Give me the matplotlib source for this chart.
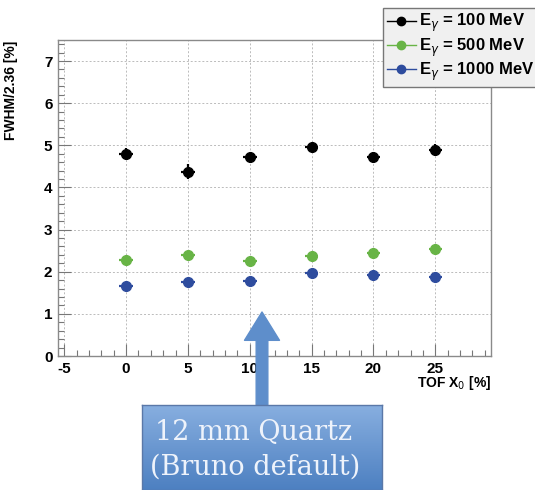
import numpy as np
import matplotlib
matplotlib.use("Agg")
import matplotlib.pyplot as plt
from matplotlib.ticker import MultipleLocator
from matplotlib.lines import Line2D

plt.rcParams['font.family'] = ['Liberation Sans', 'DejaVu Sans']
plt.rcParams['axes.unicode_minus'] = False

# TOF thickness scan
tof_x0 = [0, 5, 10, 15, 20, 25]

res_100 = [4.80, 4.37, 4.72, 4.96, 4.72, 4.88]
res_500 = [2.27, 2.39, 2.26, 2.38, 2.44, 2.54]
res_1000 = [1.65, 1.75, 1.77, 1.97, 1.93, 1.88]

err_100 = [0.14, 0.18, 0.09, 0.09, 0.11, 0.14]
err_500 = [0.05, 0.05, 0.05, 0.05, 0.05, 0.05]
err_1000 = [0.05, 0.05, 0.05, 0.05, 0.05, 0.05]

labels = [r"E$_{\gamma}$ = 100 MeV", r"E$_{\gamma}$ = 500 MeV", r"E$_{\gamma}$ = 1000 MeV"]
colors = ["#000000", "#68b446", "#2e4c9e"]

W, H = 535, 490
fig = plt.figure(figsize=(W/100, H/100), dpi=100)
ax = fig.add_axes([58/W, 1 - 356/H, (491-58)/W, (356-40)/H])

for y, e, c in zip([res_100, res_500, res_1000], [err_100, err_500, err_1000], colors):
    ax.errorbar(tof_x0, y, yerr=e, xerr=0.55, fmt='o', color=c, ms=7, elinewidth=1.6,
                capsize=0, zorder=3)

ax.set_xlim(-5.5, 29.5)
ax.set_ylim(0, 7.5)
ax.xaxis.set_major_locator(MultipleLocator(5))
ax.xaxis.set_minor_locator(MultipleLocator(1))
ax.yaxis.set_major_locator(MultipleLocator(1))
ax.yaxis.set_minor_locator(MultipleLocator(0.2))
ax.tick_params(which='both', direction='in', top=False, right=False, colors='#777777',
               labelcolor='black', labelsize=11)
ax.tick_params(which='major', length=9, width=0.8)
ax.tick_params(which='minor', length=4.5, width=0.8)
ax.tick_params(axis='x', pad=4)
ax.tick_params(axis='y', pad=4)
for t in ax.get_xticklabels() + ax.get_yticklabels():
    t.set_fontweight('bold')
ax.grid(True, which='major', color='#bbbbbb', linestyle=(0, (2, 2)), linewidth=0.7)
for s in ax.spines.values():
    s.set_color('#8a8a8a')
    s.set_linewidth(1.0)

ax.set_ylabel("FWHM/2.36 [%]", fontsize=10, fontweight='bold')
ax.yaxis.set_label_coords(-0.092, 0.84)
ax.set_xlabel(r"TOF X$_{0}$ [%]", fontsize=10, fontweight='bold', loc='right')
ax.xaxis.set_label_coords(1.0, -0.058)

handles = [Line2D([], [], color=c, marker='o', ms=6, lw=1.0) for c in colors]
leg = ax.legend(handles, labels, loc='upper left', bbox_to_anchor=(383/W, 1 - 8/H),
                bbox_transform=fig.transFigure, fancybox=False, frameon=True,
                fontsize=12, handlelength=1.7, borderpad=0.25, labelspacing=0.12,
                handletextpad=0.2, borderaxespad=0)
leg.get_frame().set_facecolor('#f0f0f0')
leg.get_frame().set_edgecolor('#777777')
leg.get_frame().set_alpha(1)
for t in leg.get_texts():
    t.set_fontweight('bold')

# callout arrow pointing at the 10 % point
ax.annotate('', xy=(262, H - 312), xytext=(262, H - 406), xycoords='figure pixels',
            textcoords='figure pixels',
            arrowprops=dict(arrowstyle='simple,head_width=2.1,head_length=1.7,tail_width=0.7',
                            color='#5e8ecb', mutation_scale=12, shrinkA=0, shrinkB=0))

# callout box with gradient fill
box = fig.add_axes([142/W, 0, (382-142)/W, (H-405)/H])
grad = np.linspace(0, 1, 100).reshape(-1, 1)
cmap = matplotlib.colors.LinearSegmentedColormap.from_list('bx', ['#88afe0', '#4d80c1'])
box.imshow(grad, aspect='auto', cmap=cmap, extent=[0, 1, 0, 1], origin='upper')
box.set_xlim(0, 1)
box.set_ylim(0, 1)
box.set_xticks([])
box.set_yticks([])
for s in box.spines.values():
    s.set_color('#5a78a8')
    s.set_linewidth(1)
box.text(13/240, 1 - 35/85, "12 mm Quartz", fontsize=19.5, family='DejaVu Serif', color='#eef3fb',
         va='baseline', ha='left')
box.text(8/240, 1 - 70/85, "(Bruno default)", fontsize=19.5, family='DejaVu Serif', color='#eef3fb',
         va='baseline', ha='left')

fig.savefig("out.png", dpi=100)
